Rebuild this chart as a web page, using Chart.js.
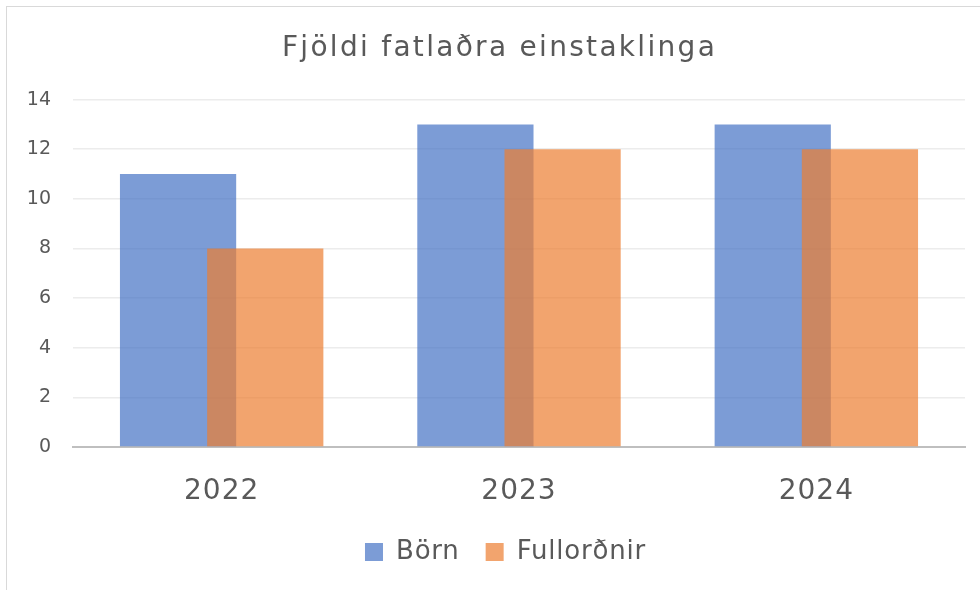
<!DOCTYPE html>
<html>
<head>
<meta charset="utf-8">
<script src="https://cdn.jsdelivr.net/npm/chart.js@4/dist/chart.umd.min.js"></script>
<style>
  html, body { margin: 0; padding: 0; background: #fff; overflow: hidden; }
  #wrap { position: relative; width: 980px; height: 590px; overflow: hidden; }
  #frame { position: absolute; left: 6px; top: 6px; width: 1100px; height: 1100px; border: 1.5px solid #d9d9d9; box-sizing: border-box; pointer-events: none; }
  canvas { position: absolute; left: 0; top: 0; }
</style>
</head>
<body>
<div id="wrap">
  <canvas id="c" width="980" height="590"></canvas>
  <div id="frame"></div>
</div>
<script>
const categories = ['2022', '2023', '2024'];
const bornValues = [11, 13, 13];
const fullordnirValues = [8, 12, 12];
const seriesNames = ['Börn', 'Fullorðnir'];
const titleText = 'Fjöldi fatlaðra einstaklinga';
const yTickStep = 2;
const yMax = 14;

const FONT = "'DejaVu Sans', sans-serif";
const TXT = '#595959';

// wrap a draw/fit method: apply letter spacing and an optional horizontal shift
function withSpacing(obj, method, sp, dx) {
  const orig = obj[method];
  obj[method] = function (...a) {
    const ctx = this.ctx;
    ctx.save();
    ctx.letterSpacing = sp;
    if (dx) ctx.translate(dx, 0);
    try { return orig.apply(this, a); } finally { ctx.restore(); }
  };
}

const spacingPlugin = {
  id: 'spacing',
  afterInit(chart) {
    if (chart.titleBlock) withSpacing(chart.titleBlock, 'draw', '2.3px', 7.5);
    if (chart.legend) { withSpacing(chart.legend, 'fit', '0.8px', 0); withSpacing(chart.legend, 'draw', '0.8px', 13.5); }
  },
  beforeDraw(chart) {
    const x = chart.scales.x;
    if (x && !x.$spaced) { withSpacing(x, 'drawLabels', '1px', 0); x.$spaced = true; }
  }
};

// draw the second series over the first (as in the original, orange overlaps blue)
const orderPlugin = {
  id: 'overlapOrder',
  beforeDatasetDraw(chart, args) {
    if (args.index === 1 && !chart.$late) return false;
  },
  afterDatasetsDraw(chart) {
    chart.$late = true;
    const meta = chart.getDatasetMeta(1);
    if (chart._drawDataset) chart._drawDataset(meta); else meta.controller.draw();
    chart.$late = false;
  }
};

new Chart(document.getElementById('c'), {
  type: 'bar',
  data: {
    labels: categories,
    datasets: [
      { label: seriesNames[0], data: bornValues, backgroundColor: 'rgba(68,114,196,0.7)', borderWidth: 0 },
      { label: seriesNames[1], data: fullordnirValues, backgroundColor: 'rgba(237,125,49,0.7)', borderWidth: 0 }
    ]
  },
  plugins: [spacingPlugin, orderPlugin],
  options: {
    responsive: false,
    animation: false,
    devicePixelRatio: 1,
    layout: { padding: { left: 19, right: 15, top: 0, bottom: 15 } },
    datasets: { bar: { categoryPercentage: 0.5865, barPercentage: 1.333 } },
    plugins: {
      title: {
        display: true, text: titleText, color: TXT,
        font: { family: FONT, size: 28, weight: 'normal' },
        padding: { top: 32, bottom: 34 }
      },
      legend: {
        position: 'bottom',
        labels: {
          color: TXT, font: { family: FONT, size: 26 },
          boxWidth: 18, boxHeight: 18, padding: 26
        },
        onClick: null
      },
      tooltip: { enabled: false }
    },
    scales: {
      x: {
        grid: { display: false, drawTicks: false },
        border: { display: true, color: '#bfbfbf', width: 2 },
        ticks: { color: TXT, font: { family: FONT, size: 28 }, padding: 28 },
        afterFit: (s) => { s.height = 66; }
      },
      y: {
        min: 0, max: yMax,
        ticks: { stepSize: yTickStep, color: TXT, font: { family: FONT, size: 19 }, padding: 22 },
        grid: { color: (ctx) => ctx.tick && ctx.tick.value === 0 ? 'rgba(0,0,0,0)' : '#ececec', lineWidth: 1.5, drawTicks: false },
        border: { display: false },
        afterFit: (s) => { s.width = 54; }
      }
    }
  }
});
</script>
</body>
</html>
